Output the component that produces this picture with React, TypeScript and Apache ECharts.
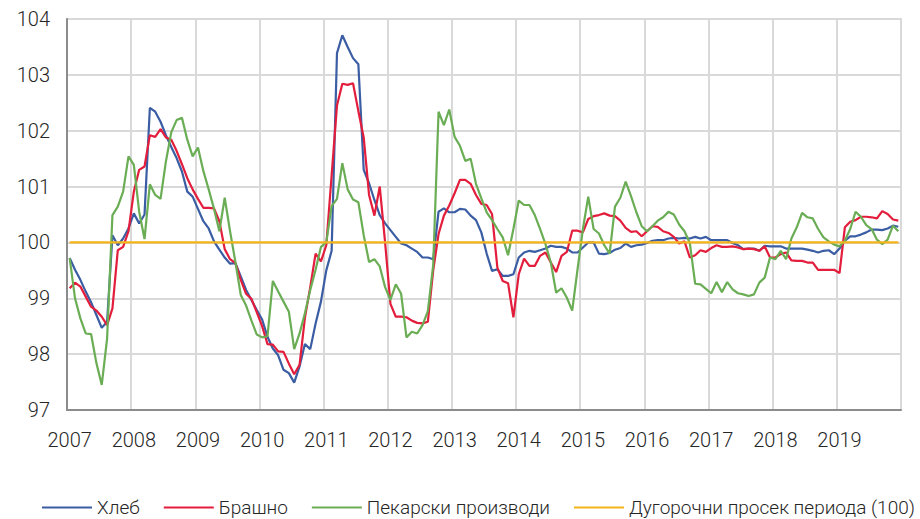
import React, { useEffect, useRef } from "react";
import * as echarts from "echarts";

const YEARS = ["2007","2008","2009","2010","2011","2012","2013","2014","2015","2016","2017","2018","2019"];
const MONTHS: string[] = [];
YEARS.forEach((y) => { for (let m = 1; m <= 12; m++) MONTHS.push(y + "-" + (m < 10 ? "0" + m : "" + m)); });

const SERIES_NAMES = ["Хлеб", "Брашно", "Пекарски производи", "Дугорочни просек периода (100)"];
const LONG_RUN_AVG = 100;

const bread = [
  99.72,99.51,99.33,99.12,98.93,98.70,98.47,98.58,100.13,99.95,100.07,100.25,
  100.52,100.34,100.50,102.41,102.34,102.16,101.92,101.71,101.51,101.27,100.91,100.82,
  100.60,100.38,100.25,100.02,99.87,99.73,99.62,99.63,99.39,99.15,98.97,98.79,
  98.62,98.31,98.10,97.98,97.72,97.66,97.49,97.78,98.18,98.09,98.55,98.94,
  99.50,99.85,103.39,103.71,103.50,103.30,103.19,101.30,101.06,100.76,100.49,100.34,
  100.22,100.10,99.98,99.95,99.89,99.83,99.73,99.73,99.70,100.55,100.61,100.54,
  100.54,100.60,100.59,100.48,100.40,100.18,99.80,99.49,99.52,99.40,99.40,99.43,
  99.73,99.82,99.85,99.83,99.86,99.89,99.94,99.92,99.92,99.89,99.82,99.82,
  99.91,100.00,100.00,99.80,99.79,99.81,99.87,99.90,99.98,99.92,99.95,99.96,
  99.99,100.03,100.04,100.04,100.07,100.08,100.07,100.08,100.07,100.10,100.07,100.10,
  100.04,100.04,100.04,100.04,99.99,99.95,99.88,99.89,99.89,99.85,99.94,99.93,
  99.93,99.93,99.89,99.89,99.89,99.89,99.87,99.85,99.82,99.85,99.86,99.79,
  99.89,100.03,100.11,100.11,100.14,100.18,100.23,100.23,100.22,100.25,100.30,100.28
];

const flour = [
  99.18,99.28,99.21,99.03,98.85,98.78,98.67,98.52,98.82,99.86,99.92,100.20,
  100.91,101.30,101.36,101.92,101.89,102.03,101.88,101.84,101.64,101.40,101.15,100.95,
  100.78,100.62,100.62,100.61,100.38,99.88,99.70,99.63,99.33,99.08,98.99,98.75,
  98.50,98.18,98.17,98.05,98.04,97.83,97.64,97.81,98.65,99.20,99.80,99.66,
  99.95,101.20,102.45,102.84,102.82,102.85,102.35,101.88,100.85,100.48,101.00,100.00,
  98.90,98.67,98.67,98.66,98.60,98.56,98.55,98.58,99.50,100.15,100.48,100.66,
  100.88,101.12,101.12,101.05,100.85,100.69,100.67,100.51,99.55,99.31,99.27,98.66,
  99.43,99.71,99.58,99.58,99.76,99.82,99.64,99.47,99.76,99.83,100.21,100.21,
  100.18,100.42,100.47,100.49,100.52,100.48,100.47,100.39,100.26,100.19,100.20,100.11,
  100.20,100.29,100.28,100.20,100.17,100.10,99.98,100.02,99.73,99.77,99.86,99.83,
  99.90,99.95,99.92,99.92,99.93,99.91,99.88,99.89,99.88,99.85,99.93,99.73,
  99.73,99.79,99.82,99.68,99.67,99.67,99.64,99.64,99.51,99.51,99.51,99.51,
  99.45,100.27,100.37,100.40,100.46,100.46,100.45,100.43,100.56,100.51,100.41,100.39
];

const bakery = [
  99.72,99.00,98.64,98.37,98.36,97.84,97.45,98.28,100.49,100.64,100.91,101.54,
  101.39,100.55,100.06,101.04,100.85,100.78,101.45,101.97,102.19,102.23,101.84,101.54,
  101.70,101.28,100.95,100.60,100.20,100.80,100.20,99.65,99.06,98.87,98.60,98.35,
  98.30,98.32,99.31,99.12,98.94,98.76,98.09,98.37,98.73,99.15,99.51,99.92,
  100.00,100.65,100.78,101.42,100.95,100.77,100.72,100.13,99.65,99.70,99.57,99.20,
  98.97,99.25,99.08,98.30,98.40,98.37,98.52,98.77,99.60,102.34,102.10,102.38,
  101.89,101.73,101.46,101.50,101.05,100.79,100.54,100.40,100.24,100.09,99.77,100.24,
  100.75,100.67,100.67,100.49,100.24,99.97,99.64,99.10,99.18,99.01,98.78,99.52,
  100.24,100.82,100.24,100.16,99.95,99.80,100.64,100.80,101.09,100.83,100.54,100.29,
  100.20,100.29,100.39,100.45,100.55,100.50,100.32,100.20,99.99,99.26,99.25,99.17,
  99.09,99.29,99.11,99.29,99.16,99.09,99.07,99.04,99.07,99.28,99.37,99.73,
  99.70,99.85,99.70,100.07,100.27,100.53,100.45,100.43,100.24,100.09,100.02,99.96,
  99.93,100.03,100.24,100.55,100.46,100.31,100.24,100.05,99.97,100.05,100.30,100.20
];

const longRun = MONTHS.map(() => LONG_RUN_AVG);

const COLORS = ["#3A5DA3", "#E31D3C", "#6AAD55", "#F4B41A"];
const FONT = "Roboto, 'Liberation Sans', sans-serif";

export default function App() {
  const ref = useRef<HTMLDivElement>(null);
  useEffect(() => {
    if (!ref.current) return;
    const chart = echarts.init(ref.current, null, { renderer: "svg" });
    const values = [bread, flour, bakery, longRun];
    chart.setOption({
      animation: false,
      backgroundColor: "#ffffff",
      textStyle: { fontFamily: FONT },
      grid: {
        left: 67, right: 19, top: 19, bottom: 109,
        show: true, borderColor: "#d9d9d9", borderWidth: 2,
      },
      legend: {
        top: 498,
        left: 42,
        width: 878,
        padding: 0,
        icon: "rect",
        itemWidth: 50,
        itemHeight: 2,
        itemGap: 24,
        data: SERIES_NAMES,
        textStyle: { fontSize: 19, color: "#262626", fontFamily: FONT, fontWeight: 300 },
      },
      xAxis: {
        type: "category",
        data: MONTHS,
        boundaryGap: true,
        axisLine: { show: true, lineStyle: { color: "#8c8c8c", width: 2 } },
        axisTick: { show: false, interval: 11 },
        axisLabel: {
          interval: 11,
          margin: 20,
          fontSize: 20,
          color: "#262626",
          fontFamily: FONT,
          fontWeight: 300,
          formatter: (v: string) => v.slice(0, 4),
        },
        splitLine: { show: true, interval: 11, lineStyle: { color: "#d9d9d9", width: 2 } },
      },
      yAxis: {
        type: "value",
        min: 97,
        max: 104,
        interval: 1,
        axisLine: { show: true, lineStyle: { color: "#8c8c8c", width: 2 } },
        axisTick: { show: false },
        axisLabel: { margin: 17, fontSize: 20, color: "#262626", fontFamily: FONT, fontWeight: 300 },
        splitLine: { show: true, lineStyle: { color: "#d9d9d9", width: 2 } },
      },
      series: SERIES_NAMES.map((name, k) => ({
        name,
        type: "line",
        data: values[k],
        symbol: "none",
        showSymbol: false,
        color: COLORS[k],
        itemStyle: { color: COLORS[k] },
        lineStyle: { color: COLORS[k], width: 2.2 },
        z: 2 + k,
      })),
    });
    return () => chart.dispose();
  }, []);
  return (
    <div
      ref={ref}
      style={{ position: "fixed", top: 0, left: 0, width: 920, height: 519 }}
    />
  );
}
